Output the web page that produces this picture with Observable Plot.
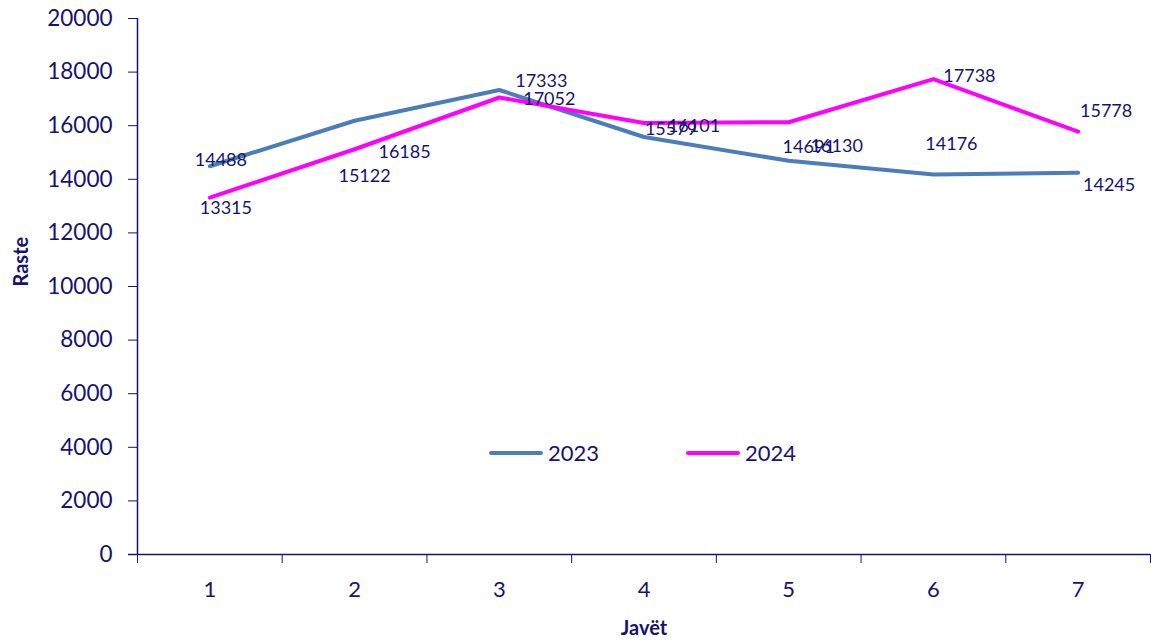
<!DOCTYPE html>
<html>
<head>
<meta charset="utf-8">
<script src="https://cdn.jsdelivr.net/npm/d3@7"></script>
<script src="https://cdn.jsdelivr.net/npm/@observablehq/plot@0.6"></script>
<style>
  html, body { margin: 0; padding: 0; background: #fff; }
  #wrap { position: relative; width: 1151px; height: 641px; font-family: Lato, "Open Sans", sans-serif; }
  .leg { position: absolute; top: 439px; display: flex; align-items: center; font-size: 22px; color: #14146e; }
  .leg span.sw { display: inline-block; width: 54px; height: 4px; border-radius: 2px; margin-right: 5px; }
</style>
</head>
<body>
<div id="wrap"></div>
<script>
const weeks = [1, 2, 3, 4, 5, 6, 7];
const years = ["2023", "2024"];
const values2023 = [14488, 16185, 17333, 15579, 14691, 14176, 14245];
const values2024 = [13315, 15122, 17052, 16101, 16130, 17738, 15778];
const yTicks = [0, 2000, 4000, 6000, 8000, 10000, 12000, 14000, 16000, 18000, 20000];
const colors = ["#4a7ebb", "#ff00ff"];
// label offsets (layout only)
const labelOffsets2023 = [[11, -6], [50, 31], [42, -9], [27, -8], [20, -14], [18, -30], [31, 13]];
const labelOffsets2024 = [[16, 11], [10, 27], [50, 2], [50, 3], [48, 24], [36, -3], [28, -20]];

const ink = "#14146e";
const rows = [];
weeks.forEach((w, i) => {
  rows.push({week: w, year: "2023", value: values2023[i]});
  rows.push({week: w, year: "2024", value: values2024[i]});
});

const boundaries = weeks.map(w => w - 0.5).concat([weeks[weeks.length - 1] + 0.5]);

const labelMarks = [];
[[values2023, labelOffsets2023], [values2024, labelOffsets2024]].forEach(([vals, offs]) => {
  weeks.forEach((w, i) => {
    labelMarks.push(Plot.text([{week: w, value: vals[i]}], {
      x: "week", y: "value", text: d => String(d.value),
      dx: offs[i][0], dy: offs[i][1], fill: ink, fontSize: 18, fontFamily: "Lato, sans-serif"
    }));
  });
});

const chart = Plot.plot({
  width: 1151,
  height: 641,
  marginLeft: 137,
  marginRight: 1,
  marginTop: 18,
  marginBottom: 87,
  style: {fontFamily: "Lato, sans-serif", color: ink, background: "#fff"},
  x: {domain: [0.5, 7.5], axis: null},
  y: {domain: [0, 20000], axis: null},
  color: {domain: years, range: colors},
  marks: [
    Plot.axisY({ticks: yTicks, tickSize: 9, tickPadding: 16, tickFormat: d => String(d), fontSize: 22.5, stroke: ink, fill: ink, label: null}),
    Plot.axisX({ticks: weeks, tickSize: 0, tickPadding: 27, tickFormat: d => String(d), fontSize: 22, fill: ink, label: null}),
    Plot.axisX({ticks: boundaries, tickSize: 9, tickFormat: () => "", stroke: ink, label: null}),
    Plot.ruleX([0.5], {stroke: ink, strokeWidth: 1.5}),
    Plot.ruleY([0], {stroke: ink, strokeWidth: 1.5, x1: 0.5 - 9 / 145, x2: 7.5}),
    Plot.line(rows, {x: "week", y: "value", z: "year", stroke: "year", strokeWidth: 4, strokeLinejoin: "round", strokeLinecap: "round"}),
    ...labelMarks,
    Plot.text(["Raste"], {frameAnchor: "left", dx: -116, rotate: -90, fontWeight: "bold", fontSize: 20, fill: ink}),
    Plot.text(["Javët"], {frameAnchor: "bottom", dy: 80, fontWeight: "bold", fontSize: 20, fill: ink})
  ]
});

const wrap = document.getElementById("wrap");
wrap.appendChild(chart);
const legPos = [489, 686];
years.forEach((y, i) => {
  const d = document.createElement("div");
  d.className = "leg";
  d.style.left = legPos[i] + "px";
  d.innerHTML = `<span class="sw" style="background:${colors[i]}"></span>${y}`;
  wrap.appendChild(d);
});
</script>
</body>
</html>
